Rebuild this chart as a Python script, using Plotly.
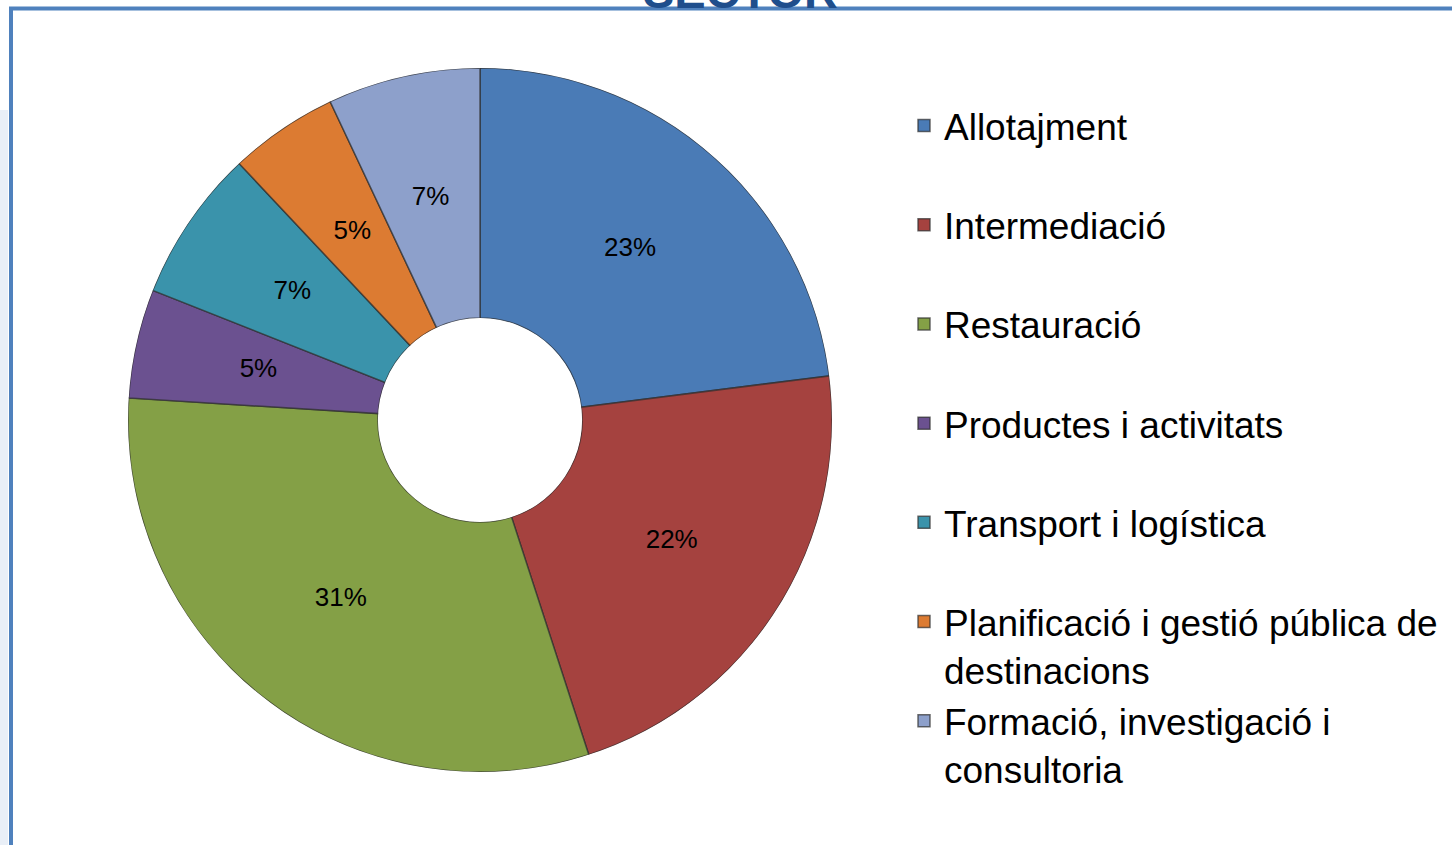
import plotly.graph_objects as go

# share of companies by sector (%)
categories = [
    "Allotajment",
    "Intermediació",
    "Restauració",
    "Productes i activitats",
    "Transport i logística",
    "Planificació i gestió pública de<br>destinacions",
    "Formació, investigació i<br>consultoria",
]
shares = [23, 22, 31, 5, 7, 5, 7]
colors = ["#4a7bb6", "#a5423f", "#84a046", "#6b5190", "#3a93ab", "#dc7b32", "#8da0cb"]

title_text = "SECTOR"
HOLE = 0.29

# every legend entry takes two lines so entries are evenly spaced
legend_labels = [c if "<br>" in c else c + "<br>&nbsp;" for c in categories]

# slice position/width in degrees, clockwise from 12 o'clock
total = sum(shares)
widths = [s / total * 360 for s in shares]
mid_angles = []
acc = 0
for w in widths:
    mid_angles.append(acc + w / 2)
    acc += w

fig = go.Figure()
# donut drawn as a polar bar chart, one trace per sector so each gets a legend entry
for lab, s, th, w, c in zip(legend_labels, shares, mid_angles, widths, colors):
    fig.add_trace(go.Barpolar(
        r=[1], theta=[th], width=[w], base=0,
        name=lab,
        marker=dict(color=c, line=dict(color="rgba(45,45,45,0.7)", width=1.5)),
        hovertemplate=f"{s}%<extra></extra>",
    ))

# percentage labels in the middle of the ring
fig.add_trace(go.Scatterpolar(
    theta=mid_angles,
    r=[0.5] * len(shares),
    mode="text",
    text=[f"{s}%" for s in shares],
    textfont=dict(family="Liberation Sans, Arial", size=26, color="#000000"),
    showlegend=False,
    hoverinfo="skip",
))

fig.update_layout(polar=dict(
    domain=dict(x=[128 / 1452, 832 / 1452], y=[1 - 772 / 845, 1 - 68 / 845]),
    hole=HOLE,
    bargap=0,
    bgcolor="rgba(0,0,0,0)",
    radialaxis=dict(range=[0, 1], visible=False, showgrid=False),
    angularaxis=dict(rotation=90, direction="clockwise", visible=False, showgrid=False),
))

# blue frame, partly cut off by the picture edges
fig.add_shape(type="rect", xref="paper", yref="paper",
              x0=11 / 1452, x1=1.05, y0=-0.05, y1=1 - 8.5 / 845,
              line=dict(color="#4f81bd", width=4), fillcolor="rgba(0,0,0,0)", layer="below")
fig.add_shape(type="rect", xref="paper", yref="paper",
              x0=0, x1=8 / 1452, y0=0, y1=1 - 110 / 845,
              line=dict(width=0), fillcolor="#e9eff7", layer="below")

fig.add_annotation(text="<b>" + title_text + "</b>", xref="paper", yref="paper",
                   x=740 / 1452, y=1, xanchor="center", yanchor="bottom", yshift=-20,
                   showarrow=False, font=dict(family="Liberation Sans, Arial", size=47, color="#1f4e8c"))

fig.update_layout(
    width=1452, height=845,
    margin=dict(l=0, r=0, t=0, b=0),
    paper_bgcolor="white",
    plot_bgcolor="white",
    showlegend=True,
    legend=dict(
        x=904 / 1452, y=1 - 95 / 845, xanchor="left", yanchor="top",
        valign="top",
        tracegroupgap=0,
        font=dict(family="Liberation Sans, Arial", size=37, color="#000000"),
        bgcolor="rgba(0,0,0,0)",
    ),
)

fig.write_html("out.html", config={"displayModeBar": False},
               post_script="document.body.style.margin = '0';")
